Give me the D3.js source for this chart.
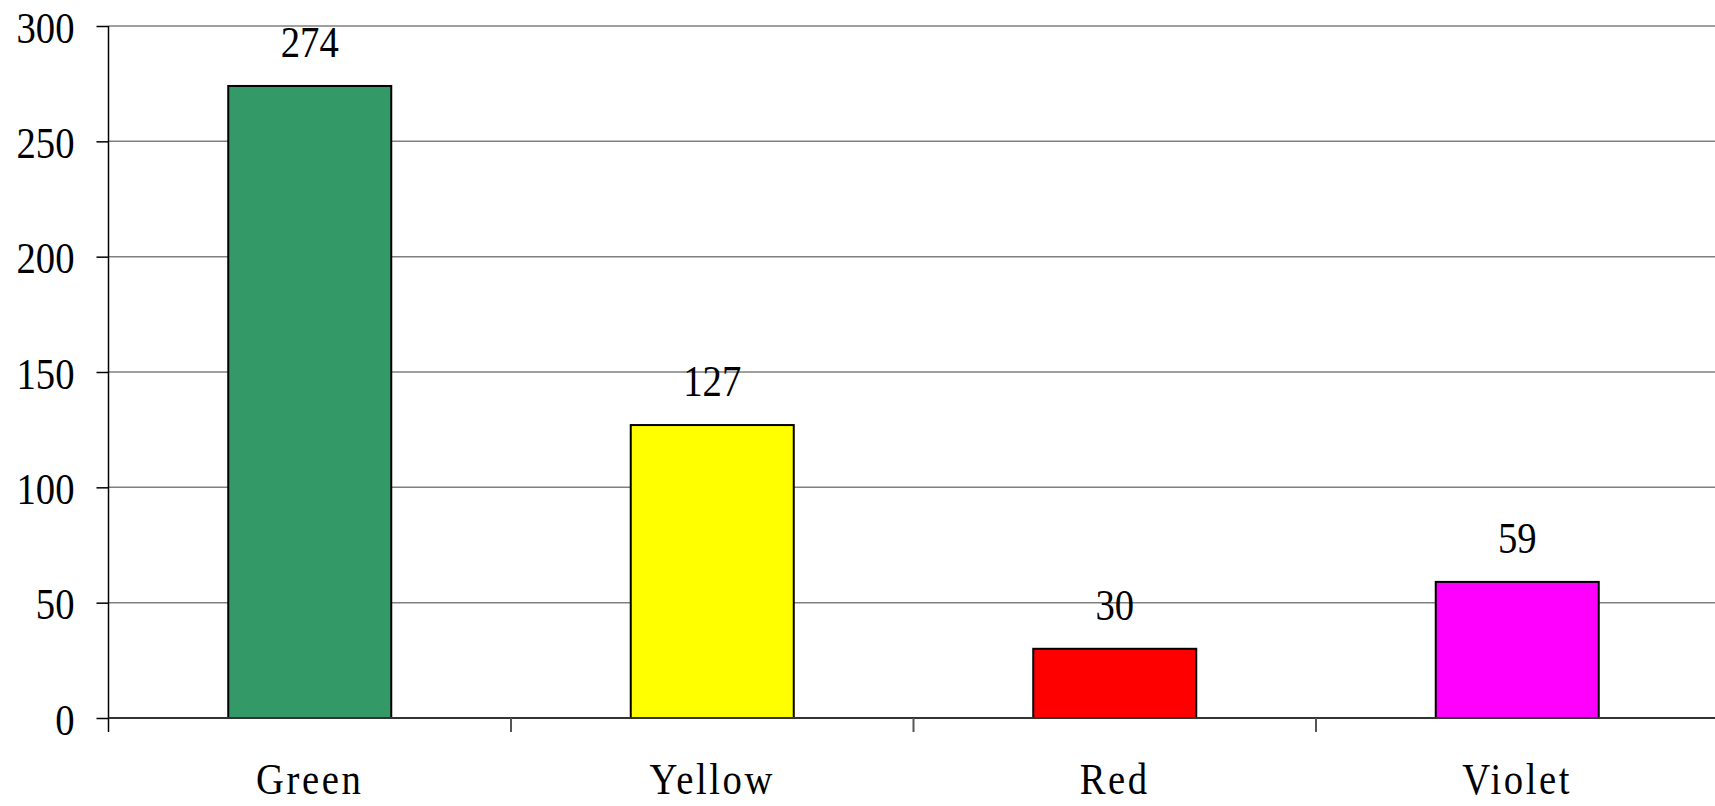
<!DOCTYPE html>
<html>
<head>
<meta charset="utf-8">
<script src="https://cdn.jsdelivr.net/npm/d3@7"></script>
<style>
  html, body { margin: 0; padding: 0; background: #fff; }
  svg { display: block; }
  text { font-family: "Liberation Serif", "Times New Roman", serif; fill: #000; }
</style>
</head>
<body>
<svg id="chart" width="1715" height="806"></svg>
<script>
// Counts per colour category
const categories = ["Green", "Yellow", "Red", "Violet"];
const counts = [274, 127, 30, 59];
const barColors = ["#339966", "#FFFF00", "#FF0000", "#FF00FF"];
const yTicks = [0, 50, 100, 150, 200, 250, 300];

const W = 1715, H = 806;
const margin = { top: 26, right: -3.5, bottom: 88, left: 108.5 };
const svg = d3.select("#chart");

const x = d3.scaleBand()
  .domain(categories)
  .range([margin.left, W - margin.right])
  .paddingInner(0.595)
  .paddingOuter(0.2975);

const y = d3.scaleLinear()
  .domain([0, 300])
  .range([H - margin.bottom, margin.top]);

const fontSize = 45;
const squeeze = 0.86;

// Horizontal gridlines
svg.append("g")
  .selectAll("line")
  .data(yTicks.filter(d => d > 0))
  .join("line")
  .attr("x1", margin.left)
  .attr("x2", W)
  .attr("y1", d => y(d))
  .attr("y2", d => y(d))
  .attr("stroke", "#808080")
  .attr("stroke-width", 1.5);

// Y axis
const yAxis = svg.append("g")
  .attr("transform", `translate(${margin.left},0)`)
  .call(d3.axisLeft(y).tickValues(yTicks).tickSize(12).tickFormat(d3.format("d")));
yAxis.select(".domain").attr("stroke", "#000").attr("stroke-width", 1.5)
  .attr("d", `M0,${y(300)}V${y(0) + 14}`);
yAxis.selectAll(".tick line").attr("stroke", "#000").attr("stroke-width", 1.5);
yAxis.selectAll(".tick text")
  .attr("font-size", fontSize)
  .attr("font-family", "Liberation Serif")
  .attr("x", null).attr("dy", null)
  .attr("text-anchor", "end")
  .attr("transform", `translate(-34,16) scale(${squeeze},1)`);

// Bars
svg.append("g")
  .selectAll("rect")
  .data(categories)
  .join("rect")
  .attr("x", d => x(d))
  .attr("width", x.bandwidth())
  .attr("y", (d, i) => y(counts[i]))
  .attr("height", (d, i) => y(0) - y(counts[i]))
  .attr("fill", (d, i) => barColors[i])
  .attr("stroke", "#000")
  .attr("stroke-width", 2);

// X axis baseline and category separators
const step = x.step();
const xAxis = svg.append("g");
xAxis.append("line")
  .attr("x1", margin.left).attr("x2", W)
  .attr("y1", y(0)).attr("y2", y(0))
  .attr("stroke", "#333").attr("stroke-width", 2);
xAxis.selectAll("line.sep")
  .data(categories.slice(1))
  .join("line")
  .attr("class", "sep")
  .attr("x1", d => x(d) - step * 0.2975)
  .attr("x2", d => x(d) - step * 0.2975)
  .attr("y1", y(0))
  .attr("y2", y(0) + 14)
  .attr("stroke", "#555")
  .attr("stroke-width", 2);

// Category labels
xAxis.selectAll("text")
  .data(categories)
  .join("text")
  .attr("font-size", fontSize)
  .attr("text-anchor", "middle")
  .attr("letter-spacing", 3)
  .attr("transform", d => `translate(${x(d) + x.bandwidth() / 2},${y(0) + 76}) scale(${squeeze},1)`)
  .text(d => d);

// Value labels above bars
svg.append("g")
  .selectAll("text")
  .data(categories)
  .join("text")
  .attr("font-size", fontSize)
  .attr("text-anchor", "middle")
  .attr("transform", (d, i) => `translate(${x(d) + x.bandwidth() / 2},${y(counts[i]) - 29}) scale(${squeeze},1)`)
  .text((d, i) => counts[i]);
</script>
</body>
</html>
